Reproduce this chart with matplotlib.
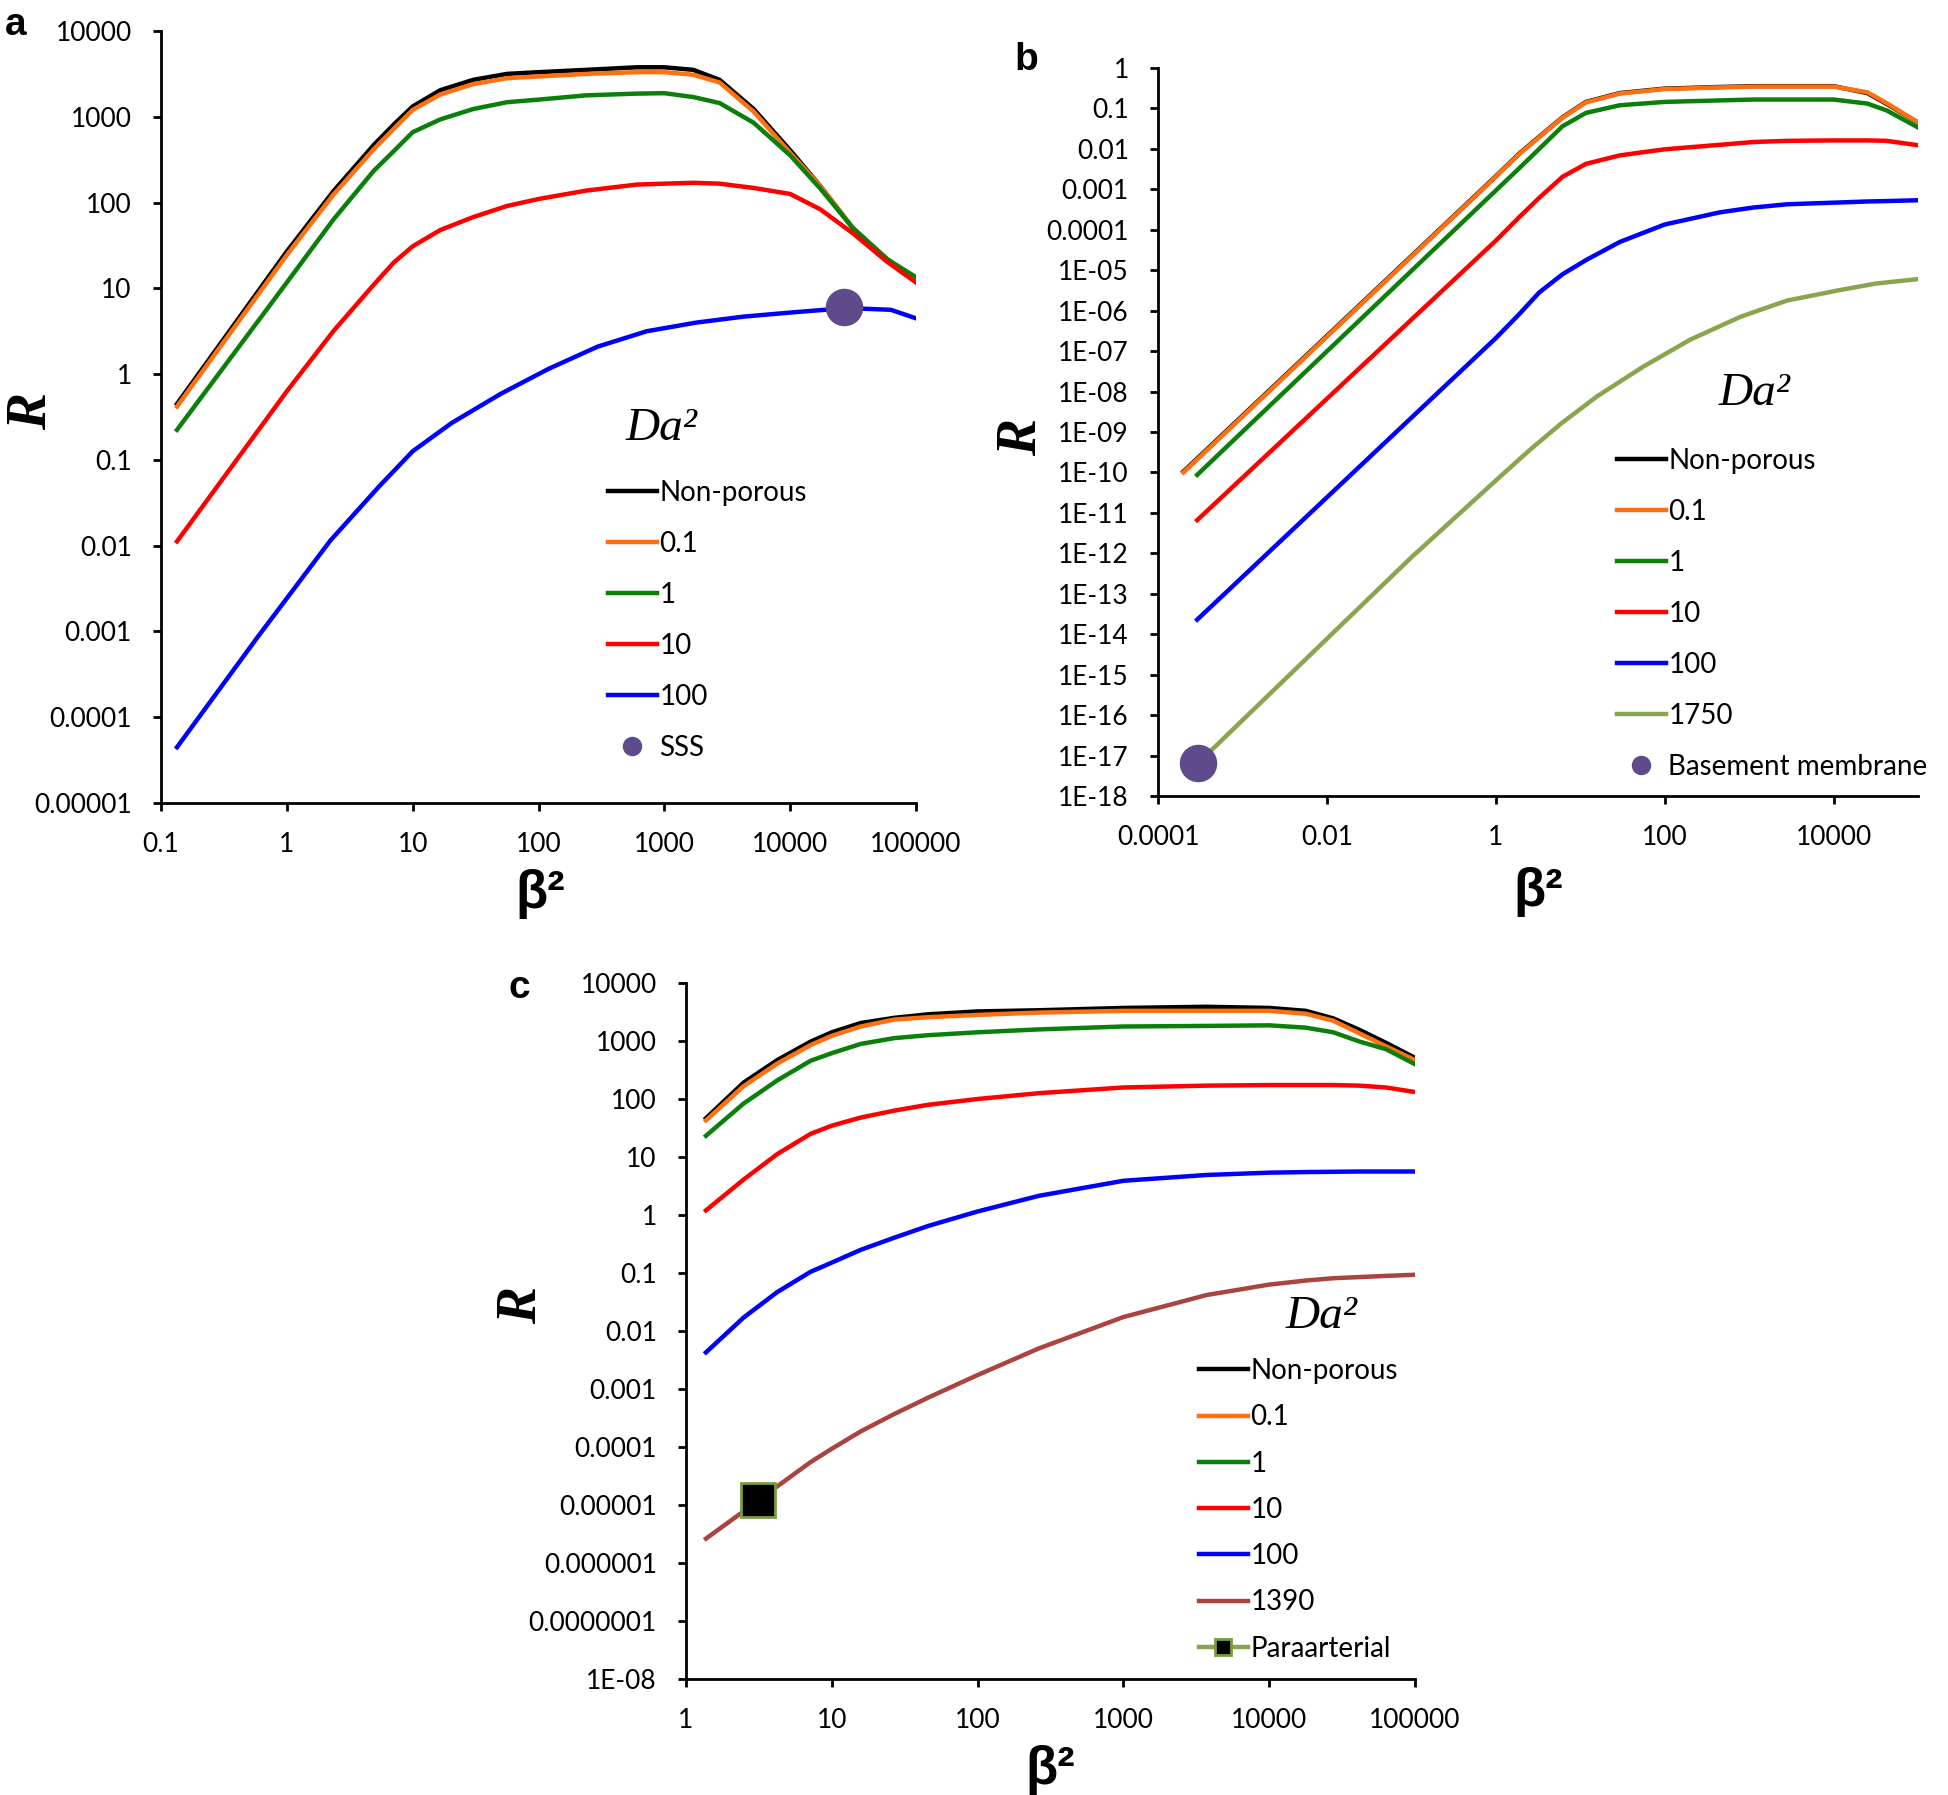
import matplotlib
matplotlib.use('Agg')
import matplotlib.pyplot as plt
from matplotlib.lines import Line2D

plt.rcParams['font.family'] = ['Lato', 'DejaVu Sans']

# ---- panel a ----
beta2_a = [0.134, 1, 2.34, 4.90, 7.08, 10, 16.6, 30.2, 56.2, 100, 240, 603, 1000,
           1700, 2750, 5130, 10000, 17400, 31600, 58900, 100000]
a_nonporous = [0.449, 26.9, 135, 468, 813, 1318, 2042, 2692, 3162, 3311, 3524, 3776, 3776,
               3524, 2692, 1230, 407, 155, 50.1, 21.9, 12.6]
a_01 = [0.419, 24.5, 123, 417, 724, 1202, 1820, 2399, 2818, 2951, 3162, 3311, 3311,
        3090, 2512, 1148, 380, 155, 50.1, 21.9, 12.6]
a_1 = [0.224, 11.7, 63.1, 234, 398, 661, 933, 1230, 1479, 1585, 1778, 1862, 1884,
       1698, 1445, 851, 355, 145, 50.1, 21.9, 13.5]
a_10 = [0.0112, 0.631, 3.16, 11.0, 20.0, 30.9, 47.9, 67.6, 91.2, 110, 138, 162, 166,
        170, 166, 148, 126, 83.2, 43.7, 20.4, 11.7]
beta2_a100 = [0.134, 0.583, 2.22, 5.41, 10, 20.4, 50.1, 120, 295, 724, 1778, 4266, 10500,
              28200, 63100, 100000]
a_100 = [4.47e-5, 8.51e-4, 0.0115, 0.0490, 0.126, 0.269, 0.589, 1.15, 2.09, 3.16, 3.98, 4.68,
         5.25, 5.89, 5.62, 4.47]
sss_x, sss_y = [26600], [6.0]

# ---- panel b ----
beta2_b0 = [2.0e-4, 1, 1.89, 3.27, 6.17, 11.7, 29.5, 100, 447, 1122, 2818, 10000, 25100, 42700, 100000]
beta2_b = [2.91e-4, 1, 1.89, 3.27, 6.17, 11.7, 29.5, 100, 447, 1122, 2818, 10000, 25100, 42700, 100000]
b_nonporous = [1.05e-10, 2.1e-3, 7.6e-3, 0.0200, 0.0603, 0.145, 0.240, 0.309, 0.339, 0.355, 0.355,
               0.355, 0.240, 0.129, 0.0447]
b_01 = [1.0e-10, 2.04e-3, 7.41e-3, 0.0195, 0.0589, 0.141, 0.234, 0.302, 0.331, 0.347, 0.347,
        0.347, 0.251, 0.135, 0.0447]
b_1 = [8.71e-11, 9.33e-4, 3.31e-3, 0.0100, 0.0363, 0.0776, 0.120, 0.145, 0.158, 0.166, 0.166,
       0.166, 0.132, 0.0891, 0.0339]
b_10 = [6.61e-12, 5.37e-5, 2.04e-4, 6.17e-4, 2.04e-3, 4.27e-3, 6.92e-3, 9.77e-3, 0.0126, 0.0148,
        0.0158, 0.0162, 0.0162, 0.0158, 0.0123]
b_100 = [2.29e-14, 2.09e-7, 8.13e-7, 2.82e-6, 7.94e-6, 1.78e-5, 5.01e-5, 1.35e-4, 2.69e-4, 3.55e-4,
         4.27e-4, 4.68e-4, 5.01e-4, 5.13e-4, 5.37e-4]
beta2_b1750 = [3.0e-4, 0.1, 1, 2.51, 6.03, 15.8, 56.2, 200, 794, 2818, 11200, 31600, 100000]
b_1750 = [6.6e-18, 7.94e-13, 6.31e-11, 3.55e-10, 1.66e-9, 7.59e-9, 4.17e-8, 1.91e-7, 7.08e-7,
          1.78e-6, 3.16e-6, 4.68e-6, 6.03e-6]
bm_x, bm_y = [2.99e-4], [6.6e-18]

# ---- panel c ----
beta2_c = [1.37, 2.48, 4.22, 7.16, 10, 15.8, 26.9, 45.7, 100, 263, 1000, 3720, 10000,
           17800, 27500, 41700, 63100, 100000]
c_nonporous = [46.5, 191, 468, 977, 1413, 2042, 2512, 2884, 3236, 3388, 3715, 3890, 3715,
               3311, 2455, 1549, 933, 513]
c_01 = [42.7, 166, 407, 851, 1230, 1778, 2344, 2570, 2818, 3090, 3311, 3311, 3311,
        2951, 2239, 1349, 813, 468]
c_1 = [23.2, 83.2, 209, 457, 617, 891, 1122, 1259, 1413, 1585, 1778, 1820, 1862,
       1698, 1413, 977, 724, 398]
c_10 = [1.20, 4.07, 11.2, 25.1, 34.7, 47.9, 63.1, 79.4, 100, 126, 158, 170, 174,
        174, 174, 170, 158, 132]
c_100 = [0.00427, 0.0170, 0.0468, 0.105, 0.151, 0.251, 0.407, 0.646, 1.15, 2.14, 3.89, 4.90, 5.37,
         5.50, 5.56, 5.62, 5.62, 5.62]
c_1390 = [2.63e-6, 7.76e-6, 2.09e-5, 5.50e-5, 9.33e-5, 1.86e-4, 3.72e-4, 7.08e-4, 1.74e-3, 5.01e-3,
          0.0174, 0.0417, 0.0631, 0.0741, 0.0813, 0.0851, 0.0891, 0.0933]
para_x, para_y = [3.12], [1.2e-5]

# ticks
a_xticks = [0.1, 1, 10, 100, 1000, 10000, 100000]
a_xlabels = ['0.1', '1', '10', '100', '1000', '10000', '100000']
a_yticks = [1e4, 1e3, 1e2, 1e1, 1, 0.1, 0.01, 0.001, 1e-4, 1e-5]
a_ylabels = ['10000', '1000', '100', '10', '1', '0.1', '0.01', '0.001', '0.0001', '0.00001']
b_xticks = [1e-4, 1e-2, 1, 100, 10000]
b_xlabels = ['0.0001', '0.01', '1', '100', '10000']
b_yticks = [10.0 ** -k for k in range(19)]
b_ylabels = ['1', '0.1', '0.01', '0.001', '0.0001'] + ['1E-%02d' % k for k in range(5, 19)]
c_xticks = [1, 10, 100, 1000, 10000, 100000]
c_xlabels = ['1', '10', '100', '1000', '10000', '100000']
c_yticks = [10.0 ** k for k in range(4, -9, -1)]
c_ylabels = ['10000', '1000', '100', '10', '1', '0.1', '0.01', '0.001', '0.0001', '0.00001',
             '0.000001', '0.0000001', '1E-08']

col = {'np': 'black', '0.1': '#FF7012', '1': '#0A7F0A', '10': '#FF0000', '100': '#0000FF',
       '1750': '#89A54E', '1390': '#A9443F'}
purple = '#5F4B8B'
olive_edge = '#7A9A3E'
LW = 1.6

W, H = 1948, 1795
fig = plt.figure(figsize=(W / 200, H / 200), dpi=200)


def box(l, r, t, b):
    return [l / W, 1 - b / H, (r - l) / W, (b - t) / H]


def style(ax, xlim, ylim, xt, xl, yt, yl):
    ax.set_xscale('log')
    ax.set_yscale('log')
    ax.set_xlim(*xlim)
    ax.set_ylim(*ylim)
    ax.set_xticks(xt, xl)
    ax.set_yticks(yt, yl)
    ax.minorticks_off()
    for s in ['top', 'right']:
        ax.spines[s].set_visible(False)
    for s in ['left', 'bottom']:
        ax.spines[s].set_linewidth(1.0)
    ax.tick_params(length=3, width=1.0, labelsize=9.5, pad=7.5)


def legend(ax, handles, labels, x, ytop, spacing):
    ax.legend(handles, labels, loc='upper left', bbox_to_anchor=(x / W, 1 - ytop / H),
              bbox_transform=fig.transFigure, frameon=False, fontsize=10,
              handlelength=1.75, handletextpad=0.1, labelspacing=spacing,
              borderpad=0, borderaxespad=0)


def label_text(x, y, s, **kw):
    fig.text(x / W, 1 - y / H, s, ha='center', va='center', **kw)


def r_label(x, y):
    label_text(x, y, 'R', family='Liberation Serif', style='italic', weight='bold',
               fontsize=20, rotation=90)


def beta_label(x, y):
    label_text(x, y, 'β²', family='Liberation Sans', weight='bold', fontsize=19)


def da_label(x, y):
    label_text(x, y, 'Da²', family='Liberation Serif', style='italic', fontsize=17)


# panel a
ax = fig.add_axes(box(161, 916, 31, 803))
la = ax.plot(beta2_a, a_nonporous, color=col['np'], lw=LW)
la += ax.plot(beta2_a, a_01, color=col['0.1'], lw=LW)
la += ax.plot(beta2_a, a_1, color=col['1'], lw=LW)
la += ax.plot(beta2_a, a_10, color=col['10'], lw=LW)
la += ax.plot(beta2_a100, a_100, color=col['100'], lw=LW)
ax.plot(sss_x, sss_y, 'o', color=purple, ms=12.5)
style(ax, (0.1, 1e5), (1e-5, 1e4), a_xticks, a_xlabels, a_yticks, a_ylabels)
la.append(Line2D([], [], ls='none', marker='o', color=purple, ms=6))
legend(ax, la, ['Non-porous', '0.1', '1', '10', '100', 'SSS'], 608, 480, 0.90)
da_label(661, 429)
r_label(32, 412)
beta_label(540, 894)
label_text(16, 25, 'a', family='Liberation Sans', weight='bold', fontsize=14)

# panel b
ax = fig.add_axes(box(1158, 1918, 68, 796))
lb = ax.plot(beta2_b0, b_nonporous, color=col['np'], lw=LW)
lb += ax.plot(beta2_b0, b_01, color=col['0.1'], lw=LW)
lb += ax.plot(beta2_b, b_1, color=col['1'], lw=LW)
lb += ax.plot(beta2_b, b_10, color=col['10'], lw=LW)
lb += ax.plot(beta2_b, b_100, color=col['100'], lw=LW)
lb += ax.plot(beta2_b1750, b_1750, color=col['1750'], lw=LW)
ax.plot(bm_x, bm_y, 'o', color=purple, ms=12.5)
style(ax, (1e-4, 1e5), (1e-18, 1), b_xticks, b_xlabels, b_yticks, b_ylabels)
lb.append(Line2D([], [], ls='none', marker='o', color=purple, ms=6))
legend(ax, lb, ['Non-porous', '0.1', '1', '10', '100', '1750', 'Basement membrane'], 1617, 448, 0.90)
da_label(1754, 394)
r_label(1022, 437)
beta_label(1538, 892)
label_text(1026, 60, 'b', family='Liberation Sans', weight='bold', fontsize=14)

# panel c
ax = fig.add_axes(box(686, 1415, 983, 1679))
lc = ax.plot(beta2_c, c_nonporous, color=col['np'], lw=LW)
lc += ax.plot(beta2_c, c_01, color=col['0.1'], lw=LW)
lc += ax.plot(beta2_c, c_1, color=col['1'], lw=LW)
lc += ax.plot(beta2_c, c_10, color=col['10'], lw=LW)
lc += ax.plot(beta2_c, c_100, color=col['100'], lw=LW)
lc += ax.plot(beta2_c, c_1390, color=col['1390'], lw=LW)
ax.plot(para_x, para_y, 's', mfc='black', mec=olive_edge, mew=1.0, ms=12)
style(ax, (1, 1e5), (1e-8, 1e4), c_xticks, c_xlabels, c_yticks, c_ylabels)
lc.append(Line2D([], [], color=col['1750'], lw=LW, marker='s', mfc='black', mec=olive_edge, ms=6))
legend(ax, lc, ['Non-porous', '0.1', '1', '10', '100', '1390', 'Paraarterial'], 1199, 1358, 0.73)
da_label(1321, 1317)
r_label(522, 1306)
beta_label(1050, 1770)
label_text(519, 988, 'c', family='Liberation Sans', weight='bold', fontsize=14)

fig.savefig('out.png', dpi=200)
